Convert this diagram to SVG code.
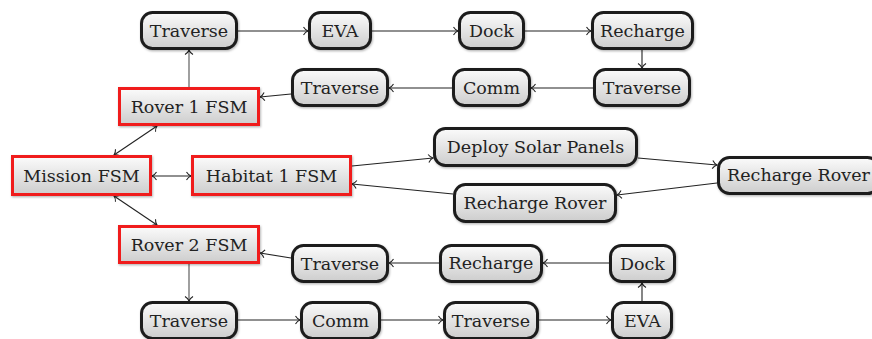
<svg xmlns="http://www.w3.org/2000/svg" width="872" height="339" viewBox="0 0 872 339">
<defs>
<linearGradient id="g" x1="0" y1="0" x2="0" y2="1">
<stop offset="0" stop-color="#fbfbfb"/>
<stop offset="1" stop-color="#cdcdcd"/>
</linearGradient>
<filter id="sh" x="-10%" y="-10%" width="130%" height="140%">
<feDropShadow dx="0.8" dy="1.2" stdDeviation="0.8" flood-color="#000" flood-opacity="0.3"/>
</filter>
<marker id="a" markerUnits="userSpaceOnUse" markerWidth="12" markerHeight="12" viewBox="-6 -6 12 12" refX="0" refY="0" orient="auto-start-reverse">
<path d="M-4.5,-4 C-3,-1.6 -1.2,-0.4 0,0 C-1.2,0.4 -3,1.6 -4.5,4" fill="none" stroke="#222" stroke-width="1.1"/>
</marker>
</defs>
<style>
.n rect{fill:url(#g);filter:url(#sh)}
.s rect{stroke:#1e1e1e;stroke-width:3}
.f rect{stroke:#f01e1e;stroke-width:3}
.n text{font-family:"DejaVu Serif","Liberation Serif",serif;font-size:17.5px;fill:#222;text-anchor:middle}
.c path{fill:none;stroke:#222;stroke-width:1.1;marker-end:url(#a)}
.c path.g{stroke:#777;stroke-width:1.4}
.c path.b{marker-start:url(#a)}
</style>
<g id="connectors" class="c">
<path class="g" d="M189,87 L189,50"/>
<path d="M238,31 L308,31"/>
<path d="M372,31 L458,31"/>
<path d="M525,31 L591,31"/>
<path d="M642,50 L642,68"/>
<path d="M593,88 L531,88"/>
<path d="M452,88 L389,88"/>
<path d="M291,94 L260,97"/>
<path class="b" d="M114,155 L157,126"/>
<path class="b" d="M152,176 L191,176"/>
<path class="b" d="M114,196 L157,225"/>
<path d="M352,166 L433,158"/>
<path d="M638,158 L717,165"/>
<path d="M717,183 L617,195"/>
<path d="M453,194 L352,184"/>
<path d="M291,258 L260,253"/>
<path d="M439,263 L389,263"/>
<path d="M609,263 L543,263"/>
<path d="M642,301 L642,283"/>
<path class="g" d="M189,264 L189,301"/>
<path d="M238,320 L300,320"/>
<path d="M381,320 L443,320"/>
<path d="M539,320 L611,320"/>
</g>
<g id="t1" class="n s"><rect x="141.5" y="12.5" width="95" height="36" rx="11"/><text x="189" y="37">Traverse</text></g>
<g id="eva1" class="n s"><rect x="309.5" y="12.5" width="61" height="36" rx="11"/><text x="340" y="37">EVA</text></g>
<g id="dock1" class="n s"><rect x="459.5" y="12.5" width="64" height="36" rx="11"/><text x="491.5" y="37">Dock</text></g>
<g id="rech1" class="n s"><rect x="592.5" y="12.5" width="100" height="36" rx="11"/><text x="642.5" y="37">Recharge</text></g>
<g id="trav2r" class="n s"><rect x="594.5" y="69.5" width="95" height="36" rx="11"/><text x="642" y="94">Traverse</text></g>
<g id="comm1" class="n s"><rect x="453.5" y="69.5" width="76" height="36" rx="11"/><text x="491.5" y="94">Comm</text></g>
<g id="trav2l" class="n s"><rect x="292.5" y="69.5" width="95" height="36" rx="11"/><text x="340" y="94">Traverse</text></g>
<g id="rover1" class="n f"><rect x="119.5" y="88.5" width="139" height="36"/><text x="189" y="113">Rover 1 FSM</text></g>
<g id="mission" class="n f"><rect x="12.5" y="156.5" width="138" height="38"/><text x="81.5" y="182">Mission FSM</text></g>
<g id="habitat" class="n f"><rect x="192.5" y="156.5" width="158" height="38"/><text x="271.5" y="182">Habitat 1 FSM</text></g>
<g id="deploy" class="n s"><rect x="434.5" y="128.5" width="202" height="37" rx="11"/><text x="535.5" y="152.5">Deploy Solar Panels</text></g>
<g id="rrR" class="n s"><rect x="718.5" y="157.5" width="160" height="36" rx="11"/><text x="798.5" y="181">Recharge Rover</text></g>
<g id="rrL" class="n s"><rect x="454.5" y="184.5" width="161" height="37" rx="11"/><text x="535" y="208.5">Recharge Rover</text></g>
<g id="rover2" class="n f"><rect x="119.5" y="226.5" width="139" height="36"/><text x="189" y="251">Rover 2 FSM</text></g>
<g id="trav4" class="n s"><rect x="292.5" y="245.5" width="95" height="36" rx="11"/><text x="340" y="270">Traverse</text></g>
<g id="rech4" class="n s"><rect x="440.5" y="245.5" width="101" height="36" rx="11"/><text x="491" y="269">Recharge</text></g>
<g id="dock4" class="n s"><rect x="610.5" y="245.5" width="64" height="36" rx="11"/><text x="642.5" y="270">Dock</text></g>
<g id="trav5a" class="n s"><rect x="141.5" y="302.5" width="95" height="36" rx="11"/><text x="189" y="327">Traverse</text></g>
<g id="comm5" class="n s"><rect x="301.5" y="302.5" width="78" height="36" rx="11"/><text x="340.5" y="327">Comm</text></g>
<g id="trav5b" class="n s"><rect x="444.5" y="302.5" width="93" height="36" rx="11"/><text x="491" y="327">Traverse</text></g>
<g id="eva5" class="n s"><rect x="612.5" y="302.5" width="59" height="36" rx="11"/><text x="642.5" y="327">EVA</text></g>
</svg>
